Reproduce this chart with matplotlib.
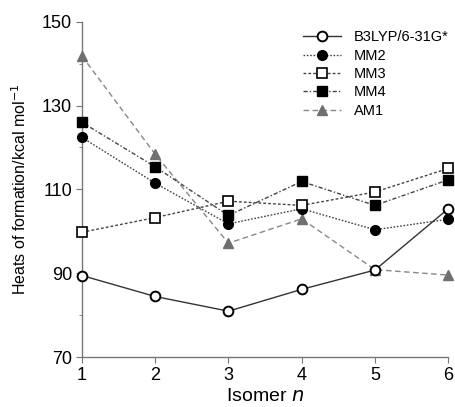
import matplotlib
matplotlib.use("Agg")
import matplotlib.pyplot as plt

plt.rcParams['font.family'] = ['Liberation Sans', 'DejaVu Sans']

isomers = [1, 2, 3, 4, 5, 6]
b3lyp = [89.5, 84.5, 81.0, 86.2, 90.8, 105.4]
mm2 = [122.4, 111.5, 101.8, 105.4, 100.4, 102.9]
mm3 = [99.8, 103.3, 107.2, 106.2, 109.4, 115.0]
mm4 = [126.0, 115.4, 103.8, 111.9, 106.2, 112.3]
am1 = [141.8, 118.4, 97.2, 103.0, 90.9, 89.6]
series_names = ["B3LYP/6-31G*", "MM2", "MM3", "MM4", "AM1"]

fig = plt.figure(figsize=(4.55, 4.07), dpi=100)
ax = fig.add_axes([0.18, 0.122, 0.805, 0.825])

lc = '#444444'
ax.plot(isomers, b3lyp, '-', color='#333333', lw=1.0, marker='o', ms=7,
        mfc='white', mec='black', mew=1.4, label=series_names[0], clip_on=False, zorder=5)
ax.plot(isomers, mm2, linestyle=(0, (1.2, 1.2)), color=lc, lw=1.0, marker='o', ms=7,
        mfc='black', mec='black', label=series_names[1], clip_on=False, zorder=4)
ax.plot(isomers, mm3, linestyle=(0, (2, 1.5)), color=lc, lw=1.0, marker='s', ms=6.5,
        mfc='white', mec='black', mew=1.2, label=series_names[2], clip_on=False, zorder=4)
ax.plot(isomers, mm4, linestyle=(0, (3, 1.5, 1, 1.5)), color=lc, lw=1.0, marker='s', ms=6.5,
        mfc='black', mec='black', label=series_names[3], clip_on=False, zorder=4)
ax.plot(isomers, am1, linestyle=(0, (4, 2.5)), color='#888888', lw=1.0, marker='^', ms=7.5,
        mfc='#707070', mec='#707070', label=series_names[4], clip_on=False, zorder=3)

ax.set_xlim(1, 6)
ax.set_ylim(70, 150)
ax.set_xticks(isomers)
ax.set_yticks([70, 90, 110, 130, 150])
ax.set_yticks([80, 100, 120, 140], minor=True)
for s in ['top', 'right']:
    ax.spines[s].set_visible(False)
for s in ['left', 'bottom']:
    ax.spines[s].set_color('#777777')
    ax.spines[s].set_linewidth(1.0)
ax.tick_params(axis='both', which='major', labelsize=13, length=4, color='#777777', direction='out', pad=3)
ax.tick_params(axis='y', which='minor', length=2.5, color='#777777')
ax.set_xlabel(r"Isomer $\mathit{n}$", fontsize=14, labelpad=3)
ax.set_ylabel(r"Heats of formation/kcal mol$^{-1}$", fontsize=11.5)
ax.yaxis.set_label_coords(-0.145, 0.5)

leg = ax.legend(loc='upper right', bbox_to_anchor=(1.025, 1.0), frameon=False, fontsize=10.5,
                handlelength=2.6, labelspacing=0.3, handletextpad=0.9, borderaxespad=0.2)

fig.savefig("out.png", dpi=100)
